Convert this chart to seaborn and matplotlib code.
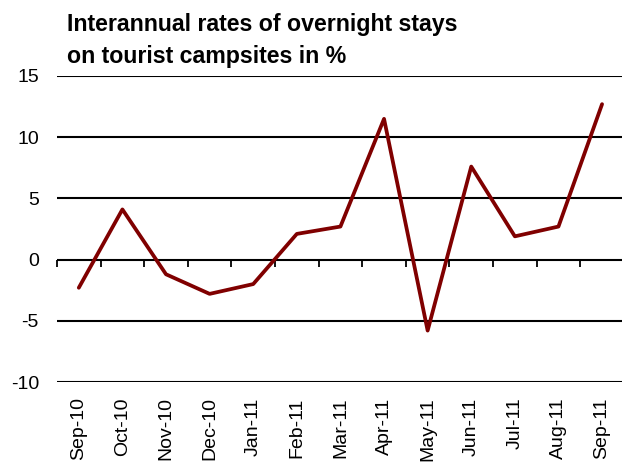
import pandas as pd
import seaborn as sns
import matplotlib.pyplot as plt


# Data
months = ['Sep-10', 'Oct-10', 'Nov-10', 'Dec-10', 'Jan-11', 'Feb-11', 'Mar-11',
          'Apr-11', 'May-11', 'Jun-11', 'Jul-11', 'Aug-11', 'Sep-11']
rates = [-2.3, 4.1, -1.2, -2.8, -2.0, 2.1, 2.7, 11.5, -5.8, 7.6, 1.9, 2.7, 12.7]
y_ticks = [-10, -5, 0, 5, 10, 15]
title_lines = ['Interannual rates of overnight stays', 'on tourist campsites in %']

df = pd.DataFrame({'month': months, 'rate': rates})

sns.set_style('white')
plt.rcParams['font.family'] = ['Liberation Sans', 'DejaVu Sans']
plt.rcParams['axes.unicode_minus'] = False
plt.rcParams['text.color'] = 'black'
plt.rcParams['xtick.color'] = 'black'
plt.rcParams['ytick.color'] = 'black'

fig = plt.figure(figsize=(6.22, 4.65), dpi=100)
ax = fig.add_axes([57 / 622, 1 - 382 / 465, 1 - 57 / 622 + 0.003, (382 - 76) / 465])

# horizontal grid lines
for v in y_ticks:
    ax.axhline(v, color='black', lw=1.5, zorder=1)

sns.lineplot(data=df, x='month', y='rate', color='#800000', lw=2.7, ax=ax, zorder=3, sort=False)

ax.set_xlim(-0.5, 12.5)
ax.set_ylim(-10, 15)
ax.set_yticks(y_ticks)
ax.set_xlabel('')
ax.set_ylabel('')
for s in ax.spines.values():
    s.set_visible(False)
ax.tick_params(axis='y', length=0, pad=13, labelsize=14)
ax.tick_params(axis='x', length=0, pad=11, labelsize=14, labelrotation=90)

# tick marks on the zero line, between categories
sec = ax.secondary_xaxis(0.4)
sec.set_xticks([i - 0.5 for i in range(len(months) + 1)])
sec.set_xticklabels([])
sec.tick_params(axis='x', direction='out', length=5, width=1.3, color='black')
sec.spines['bottom'].set_visible(False)

# two-line title, bold
fig.text(67 / 622, 1 - 31.5 / 465, title_lines[0], fontsize=16.7, fontweight='bold', va='baseline', ha='left')
fig.text(67 / 622, 1 - 63 / 465, title_lines[1], fontsize=16.7, fontweight='bold', va='baseline', ha='left')

fig.savefig('out.png', dpi=100)
